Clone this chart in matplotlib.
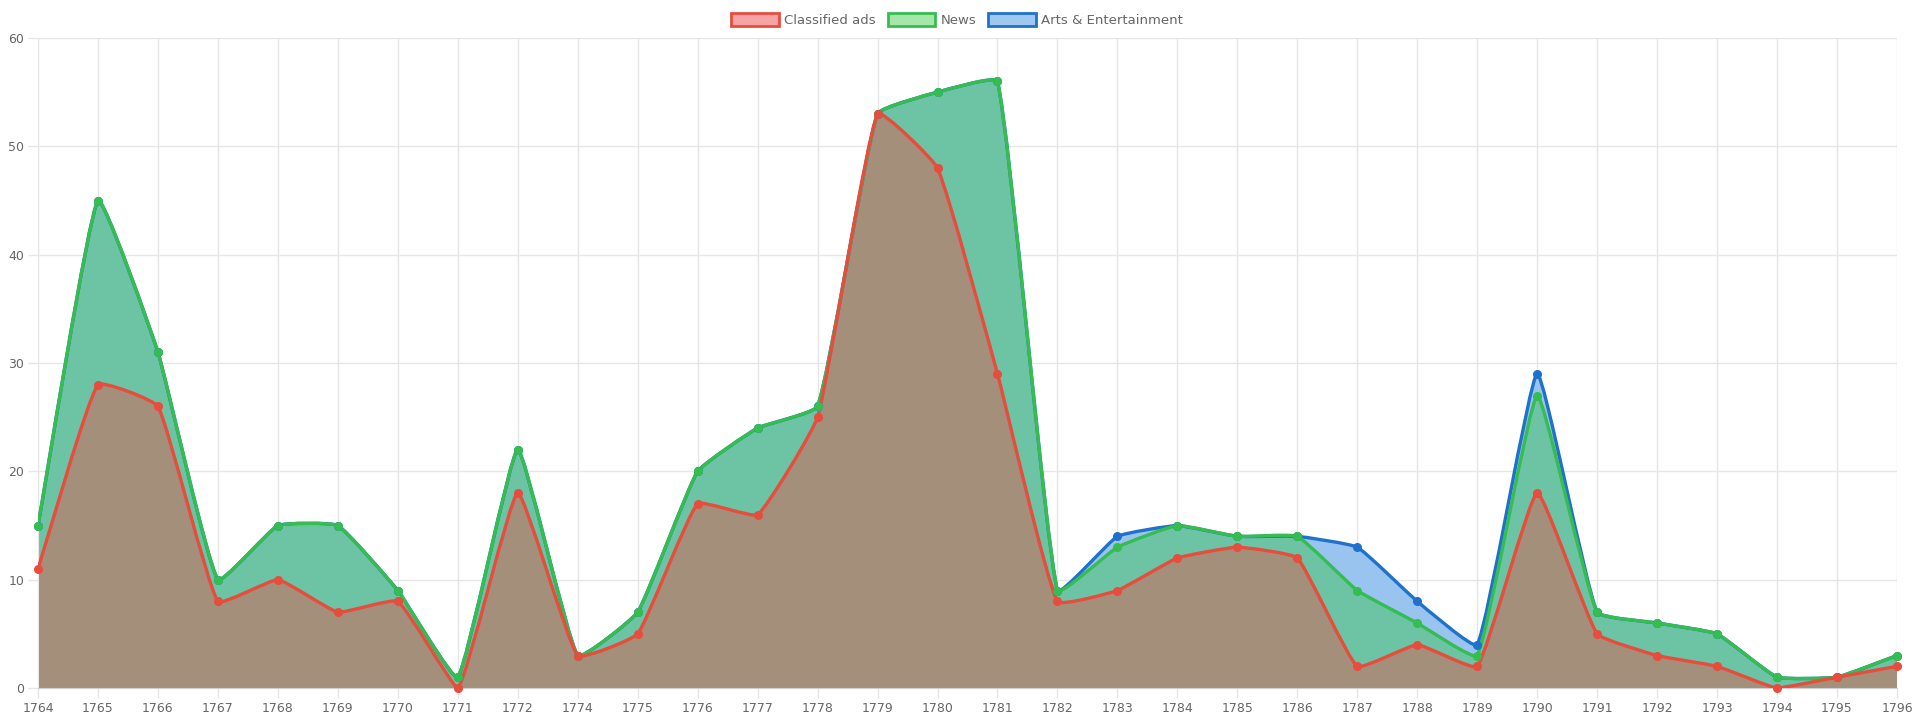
import numpy as np
import matplotlib
matplotlib.use("Agg")
import matplotlib.pyplot as plt
from matplotlib.path import Path
from matplotlib.patches import PathPatch, Patch

years = ['1764', '1765', '1766', '1767', '1768', '1769', '1770', '1771', '1772',
         '1774', '1775', '1776', '1777', '1778', '1779', '1780', '1781', '1782',
         '1783', '1784', '1785', '1786', '1787', '1788', '1789', '1790', '1791',
         '1792', '1793', '1794', '1795', '1796']

classified = [11, 28, 26, 8, 10, 7, 8, 0, 18, 3, 5, 17, 16, 25, 53, 48, 29, 8,
              9, 12, 13, 12, 2, 4, 2, 18, 5, 3, 2, 0, 1, 2]
news = [15, 45, 31, 10, 15, 15, 9, 1, 22, 3, 7, 20, 24, 26, 53, 55, 56, 9,
        13, 15, 14, 14, 9, 6, 3, 27, 7, 6, 5, 1, 1, 3]
arts = [15, 45, 31, 10, 15, 15, 9, 1, 22, 3, 7, 20, 24, 26, 53, 55, 56, 9,
        14, 15, 14, 14, 13, 8, 4, 29, 7, 6, 5, 1, 1, 3]

W, H = 1915, 719
fig = plt.figure(figsize=(W / 100, H / 100), dpi=100)
ax = fig.add_axes([38 / W, (H - 688) / H, (1897 - 38) / W, (688 - 38) / H])
x = np.arange(len(years))
ax.set_xlim(0, len(years) - 1)
ax.set_ylim(0, 60)

grid = '#e6e6e6'
ax.set_axisbelow(True)
ax.grid(True, color=grid, linewidth=1)
for s in ax.spines.values():
    s.set_visible(False)
ax.spines['left'].set_visible(True)
ax.spines['left'].set_color(grid)
ax.spines['bottom'].set_visible(True)
ax.spines['bottom'].set_color('#d0d0d0')
ax.set_xticks(x)
ax.set_xticklabels(years)
ax.set_yticks(range(0, 61, 10))
ax.tick_params(axis='both', colors=grid, labelcolor='#666666', labelsize=9,
               length=7, width=1, pad=3)


def spline_path(xs, ys, tension=0.12):
    # bezier control points worked out in pixel space, chart.js style
    pts = ax.transData.transform(np.column_stack([xs, ys]))
    n = len(pts)
    verts = [pts[0]]
    codes = [Path.MOVETO]
    cps = []
    for i in range(n):
        p0 = pts[max(i - 1, 0)]
        p1 = pts[i]
        p2 = pts[min(i + 1, n - 1)]
        d01 = np.hypot(*(p1 - p0))
        d12 = np.hypot(*(p2 - p1))
        tot = d01 + d12
        s01 = d01 / tot if tot else 0
        s12 = d12 / tot if tot else 0
        prev = p1 - tension * s01 * (p2 - p0)
        nxt = p1 + tension * s12 * (p2 - p0)
        cps.append((prev, nxt))
    y0 = ax.transData.transform((0, 0))[1]
    for i in range(1, n):
        c1 = cps[i - 1][1].copy()
        c2 = cps[i][0].copy()
        c1[1] = max(c1[1], y0)
        c2[1] = max(c2[1], y0)
        verts += [c1, c2, pts[i]]
        codes += [Path.CURVE4] * 3
    inv = ax.transData.inverted()
    return inv.transform(np.array(verts)), codes


series = [
    ('Arts & Entertainment', arts, '#1f72cc', '#98c4ef', '#9ec8f0'),
    ('News', news, '#35bd50', '#6cc4a4', '#a6e6a8'),
    ('Classified ads', classified, '#e84c3d', '#a38f7a', '#f5a3a3'),
]

for name, vals, line_c, fill_c, _ in series:
    verts, codes = spline_path(x, vals)
    fill_verts = np.vstack([verts, [[x[-1], 0], [x[0], 0], verts[0]]])
    fill_codes = codes + [Path.LINETO, Path.LINETO, Path.CLOSEPOLY]
    ax.add_patch(PathPatch(Path(fill_verts, fill_codes), facecolor=fill_c,
                           edgecolor='none', zorder=2))
    ax.add_patch(PathPatch(Path(verts, codes), facecolor='none',
                           edgecolor=line_c, linewidth=2.4, zorder=3,
                           capstyle='round', joinstyle='round'))
    ax.plot(x, vals, 'o', color=line_c, markersize=5.5, zorder=4, clip_on=False)

handles = [Patch(facecolor=fc, edgecolor=lc, linewidth=2, label=n)
           for n, _, lc, _, fc in reversed(series)]
fig.legend(handles=handles, loc='center', bbox_to_anchor=(957 / W, 1 - 20 / H),
           ncol=3, frameon=False, fontsize=9.5, labelcolor='#666666',
           handlelength=3.6, handleheight=1.1, handletextpad=0.4,
           columnspacing=0.9, borderaxespad=0)

fig.savefig('out.png', dpi=100)
